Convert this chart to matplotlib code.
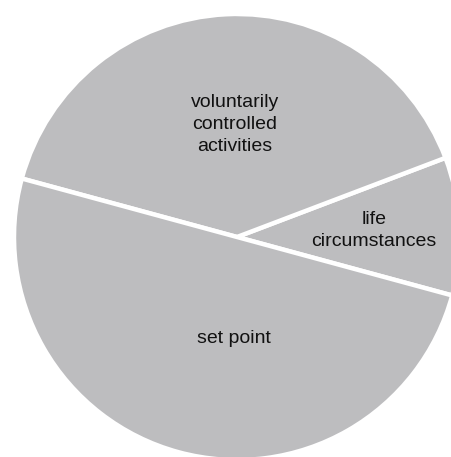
"""Pie chart: what determines happiness"""
import matplotlib
matplotlib.use('Agg')
import matplotlib.pyplot as plt

# Data
labels = ['life\ncircumstances', 'voluntarily\ncontrolled\nactivities', 'set point']
shares = [10, 40, 50]

# label positions inside the pie (in units of the radius)
label_pos = [(0.615, 0.03), (-0.01, 0.505), (-0.015, -0.455)]

fig = plt.figure(figsize=(4.52, 4.57), dpi=100)
fig.patch.set_facecolor('white')

# square axes of 446 px, centred where the dividers meet
ax = fig.add_axes([14 / 452, -3 / 457, 446 / 452, 446 / 457])
ax.pie(shares, startangle=-15.2, counterclock=True,
       colors=['#bdbdbf'] * len(shares),
       wedgeprops=dict(edgecolor='white', linewidth=3.2))

for text, (x, y) in zip(labels, label_pos):
    ax.text(x, y, text, ha='center', va='center', fontsize=14,
            family='Liberation Sans', color='#111111', linespacing=1.4)

ax.set_xlim(-1, 1)
ax.set_ylim(-1, 1)
ax.set_aspect('auto')
ax.axis('off')

plt.savefig('out.png', dpi=100)
plt.close()
